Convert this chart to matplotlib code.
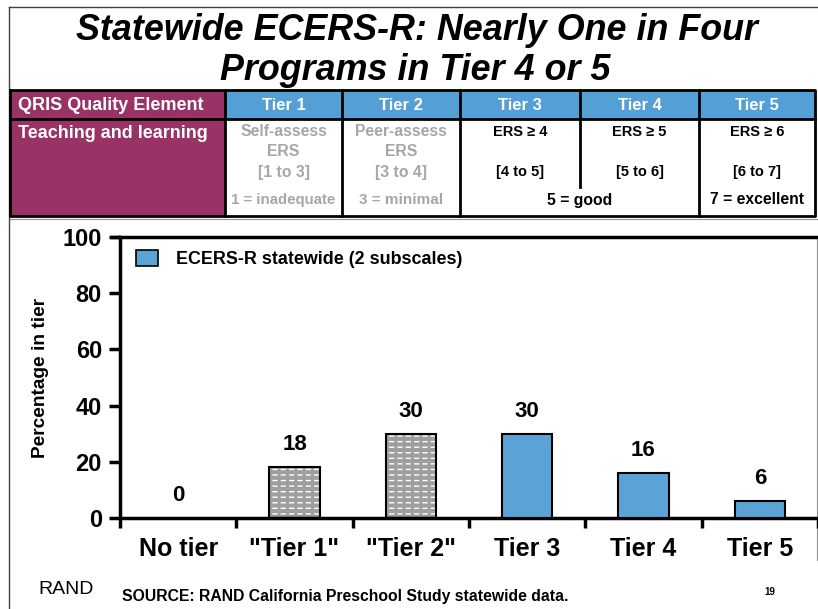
import matplotlib
matplotlib.use("Agg")
import matplotlib.pyplot as plt
from matplotlib.patches import Rectangle, Patch
import numpy as np

plt.rcParams['font.family'] = ['Liberation Sans', 'DejaVu Sans']

# ---- data ----
categories = ["No tier", '"Tier 1"', '"Tier 2"', "Tier 3", "Tier 4", "Tier 5"]
values = [0, 18, 30, 30, 16, 6]
hatched = [False, True, True, False, False, False]
yticks = [0, 20, 40, 60, 80, 100]
legend_label = "ECERS-R statewide (2 subscales)"
title_lines = ["Statewide ECERS-R: Nearly One in Four", "Programs in Tier 4 or 5"]

tier_headers = ["Tier 1", "Tier 2", "Tier 3", "Tier 4", "Tier 5"]
row_label_1 = "QRIS Quality Element"
row_label_2 = "Teaching and learning"
tier_line1 = ["Self-assess", "Peer-assess", "ERS \u2265 4", "ERS \u2265 5", "ERS \u2265 6"]
tier_line2 = ["ERS", "ERS", "", "", ""]
tier_line3 = ["[1 to 3]", "[3 to 4]", "[4 to 5]", "[5 to 6]", "[6 to 7]"]
tier_anchor = ["1 = inadequate", "3 = minimal", "5 = good", "7 = excellent"]

BLUE = "#5BA3D6"
HEAD_BLUE = "#549FD5"
PURPLE = "#993366"
GRAY_TXT = "#A6A6A6"
BAR_GRAY = "#9E9E9E"

W, H = 818, 609
fig = plt.figure(figsize=(W / 100, H / 100), dpi=100)

# overlay axes in pixel coordinates (for slide decoration & table)
ov = fig.add_axes([0, 0, 1, 1])
ov.set_xlim(0, W)
ov.set_ylim(H, 0)
ov.axis("off")

# slide borders
ov.plot([9, 9], [7, H], color="#404040", lw=1)
ov.plot([9, 817], [7, 7], color="#404040", lw=1)

# title
ov.text(417, 30, title_lines[0], ha="center", va="center", fontsize=25.8,
        fontweight="bold", fontstyle="italic")
ov.text(415, 70, title_lines[1], ha="center", va="center", fontsize=25.8,
        fontweight="bold", fontstyle="italic")

# table geometry
tx0, tx1 = 10, 815
ty0, ty1, ty2 = 90, 119, 216
col_edges = [225, 342, 460, 580, 699, 815]

ov.add_patch(Rectangle((tx0, ty0), col_edges[0] - tx0, ty2 - ty0, facecolor=PURPLE,
                       edgecolor="none", zorder=1))
ov.add_patch(Rectangle((col_edges[0], ty0), tx1 - col_edges[0], ty1 - ty0,
                       facecolor=HEAD_BLUE, edgecolor="none", zorder=1))
ov.add_patch(Rectangle((col_edges[0], ty1), tx1 - col_edges[0], ty2 - ty1,
                       facecolor="white", edgecolor="none", zorder=1))
lwt = 2
ov.plot([tx0, tx1, tx1, tx0, tx0], [ty0, ty0, ty2, ty2, ty0], color="black", lw=lwt, zorder=3)
ov.plot([tx0, tx1], [ty1, ty1], color="black", lw=lwt, zorder=3)
for i, x in enumerate(col_edges[:-1]):
    yb = 187 if i == 3 else ty2
    ov.plot([x, x], [ty0, yb], color="black", lw=lwt, zorder=3)
ov.plot([tx0, 817], [219, 219], color="#909090", lw=0.8)

ov.text(18, 105, row_label_1, ha="left", va="center", color="white",
        fontsize=13, fontweight="bold", zorder=4)
ov.text(18, 134, row_label_2, ha="left", va="center", color="white",
        fontsize=13, fontweight="bold", zorder=4)
centers = [(col_edges[i] + col_edges[i + 1]) / 2 for i in range(5)]
for i in range(5):
    c = centers[i]
    ov.text(c, 105, tier_headers[i], ha="center", va="center", color="white",
            fontsize=12, fontweight="bold", zorder=4)
    gray = i < 2
    col = GRAY_TXT if gray else "black"
    fs = 11.3 if gray else 10.5
    ov.text(c, 132, tier_line1[i], ha="center", va="center", color=col,
            fontsize=fs, fontweight="bold", zorder=4)
    if tier_line2[i]:
        ov.text(c, 152, tier_line2[i], ha="center", va="center", color=col,
                fontsize=fs, fontweight="bold", zorder=4)
    ov.text(c, 172, tier_line3[i], ha="center", va="center", color=col,
            fontsize=fs, fontweight="bold", zorder=4)
anchor_x = [centers[0], centers[1], col_edges[3], centers[4]]
anchor_c = [GRAY_TXT, GRAY_TXT, "black", "black"]
anchor_fs = [10.8, 11, 11.3, 11.3]
for x, t, c, f in zip(anchor_x, tier_anchor, anchor_c, anchor_fs):
    ov.text(x, 200, t, ha="center", va="center", color=c, fontsize=f,
            fontweight="bold", zorder=4)

# thick separator above chart
ov.plot([112, W], [237, 237], color="black", lw=2.5, zorder=5)
ov.plot([817, 817], [237, 560], color="#909090", lw=0.8)

# footer
ov.text(38, 590, "RAND", ha="left", va="center", fontsize=14)
ov.text(122, 597, "SOURCE: RAND California Preschool Study statewide data.",
        ha="left", va="center", fontsize=11.3, fontweight="bold")
ov.text(770, 592, "19", ha="center", va="center", fontsize=7, fontweight="bold")

# ---- chart ----
left, right, bottom, top = 120, 818, 518, 237
ax = fig.add_axes([left / W, 1 - bottom / H, (right - left) / W, (bottom - top) / H])
ax.set_facecolor("none")
x = np.arange(len(categories))
bw = 0.43
for xi, v, h in zip(x, values, hatched):
    if h:
        ax.bar(xi, v, width=bw, color=BAR_GRAY, edgecolor="white", hatch="---",
               linewidth=0, zorder=2)
        with plt.rc_context({"hatch.linewidth": 2.2}):
            ax.bar(xi, v, width=bw, facecolor="none", edgecolor=BAR_GRAY, hatch="||",
                   linewidth=0, zorder=2.5)
        ax.bar(xi, v, width=bw, facecolor="none", edgecolor="black", linewidth=1.5, zorder=3)
    elif v > 0:
        ax.bar(xi, v, width=bw, color=BLUE, edgecolor="black", linewidth=1.5, zorder=3)
for xi, v in zip(x, values):
    ax.text(xi, v + 8, f"{v}", ha="center", va="center", fontsize=16, fontweight="bold")

ax.set_xlim(-0.5, len(categories) - 0.5)
ax.set_ylim(0, 100)
ax.set_yticks(yticks)
ax.set_yticklabels([str(t) for t in yticks], fontsize=17, fontweight="bold")
ax.set_xticks(np.arange(len(categories) + 1) - 0.5)
ax.set_xticklabels([])
ax.set_xticks(x, minor=True)
ax.set_xticklabels(categories, minor=True, fontsize=18, fontweight="bold")
ax.tick_params(axis="x", which="minor", length=0, pad=14)
ax.tick_params(axis="x", which="major", length=7, width=2.5, direction="out")
ax.tick_params(axis="y", length=8, width=2.5, direction="out", pad=5)
for s in ["left", "bottom"]:
    ax.spines[s].set_linewidth(2.5)
ax.spines["top"].set_visible(False)
ax.spines["right"].set_visible(False)
ax.set_ylabel("Percentage in tier", fontsize=13.8, fontweight="bold", labelpad=10)

leg = ax.legend(handles=[Patch(facecolor=BLUE, edgecolor="black", linewidth=1.2,
                               label=legend_label)],
                loc="upper left", bbox_to_anchor=(0.0, 1.01), frameon=False,
                prop={"size": 12.9, "weight": "bold"}, handlelength=1.2, handleheight=1.0,
                handletextpad=1.0)

fig.savefig("out.png", dpi=100)
